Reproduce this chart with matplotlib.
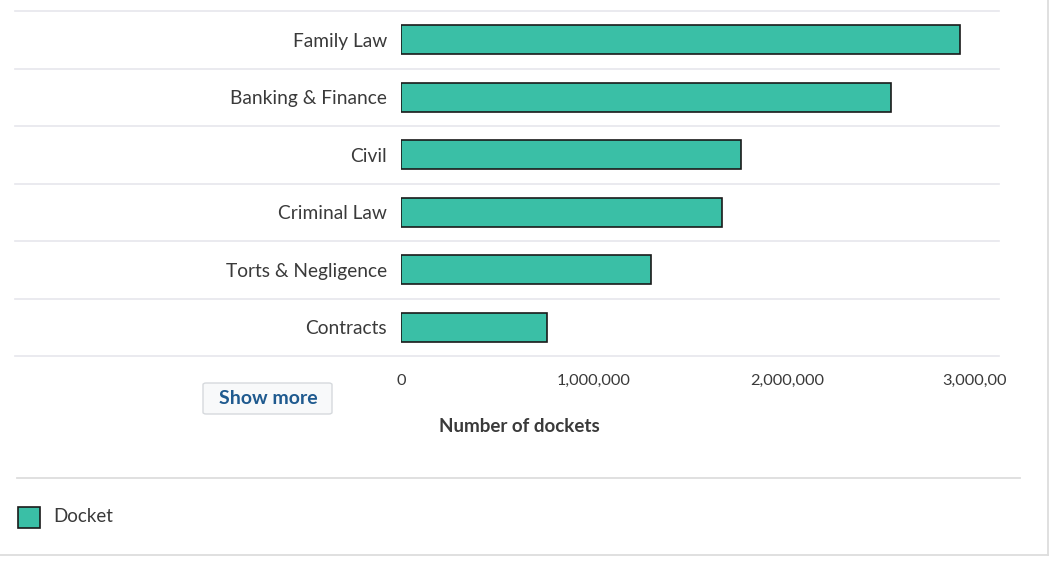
import matplotlib.pyplot as plt
from matplotlib.patches import Rectangle, FancyBboxPatch
from matplotlib.ticker import FuncFormatter

# data
categories = ["Contracts", "Torts & Negligence", "Criminal Law", "Civil",
              "Banking & Finance", "Family Law"]
dockets = [756000, 1295000, 1663000, 1762000, 2539000, 2896000]
x_ticks = [0, 1000000, 2000000, 3000000]

teal = "#3abfa6"
grid_col = "#e6e6ec"
text_col = "#3a3a3a"

plt.rcParams['font.family'] = ['Lato', 'DejaVu Sans']

W, H = 1051, 562
fig = plt.figure(figsize=(W / 100, H / 100), dpi=100)

def fx(px):
    return px / W

def fy(py):
    return 1 - py / H

ax = fig.add_axes([fx(401), fy(356), fx(999) - fx(401), fy(11) - fy(356)])
ax.barh(range(len(categories)), dockets, height=0.5, color=teal,
        edgecolor="#1a1a1a", linewidth=1.2, zorder=3)
ax.set_xlim(0, 3.1e6)
ax.set_ylim(-0.5, len(categories) - 0.5)
ax.set_yticks(range(len(categories)))
ax.set_yticklabels(categories, fontsize=13.8, color=text_col)
ax.set_xticks(x_ticks)
ax.xaxis.set_major_formatter(FuncFormatter(lambda v, p: f"{int(v):,}"))
ax.tick_params(axis="x", labelsize=11.8, colors=text_col, length=0, pad=13)
ax.tick_params(axis="y", length=0, pad=10)
for s in ax.spines.values():
    s.set_visible(False)

# category band separators, running into the label area
for i in range(len(categories) + 1):
    ax.axhline(i - 0.5, xmin=-0.645, xmax=1.0, color=grid_col, lw=1.2,
               clip_on=False, zorder=1)

# the chart container cuts off the end of the last tick label
fig.add_artist(Rectangle((fx(1007), fy(395)), fx(1046) - fx(1007), fy(365) - fy(395),
                         transform=fig.transFigure, facecolor="white",
                         edgecolor="none", zorder=5))

fig.text(fx(519), fy(427), "Number of dockets", ha="center", va="center",
         fontsize=13.5, fontweight="bold", color=text_col)

# "Show more" button
btn = FancyBboxPatch((fx(203), fy(414)), fx(332) - fx(203), fy(383) - fy(414),
                     boxstyle="round,pad=0,rounding_size=0.003",
                     transform=fig.transFigure, facecolor="#f8f9fa",
                     edgecolor="#d6d9dd", lw=1)
fig.patches.append(btn)
fig.text(fx(268), fy(398.5), "Show more", ha="center", va="center",
         fontsize=14, fontweight="bold", color="#1f5a8f")

# bottom separator and outer frame
fig.add_artist(plt.Line2D([fx(17), fx(1020)], [fy(478), fy(478)],
                          color="#dddddd", lw=1.3))
fig.add_artist(plt.Line2D([fx(1048), fx(1048)], [fy(0), fy(555)],
                          color="#dddddd", lw=1.3))
fig.add_artist(plt.Line2D([fx(0), fx(1048)], [fy(555), fy(555)],
                          color="#dddddd", lw=1.3))

# legend
fig.patches.append(Rectangle((fx(18), fy(528)), fx(40) - fx(18), fy(507) - fy(528),
                             transform=fig.transFigure, facecolor=teal,
                             edgecolor="#1a1a1a", lw=1.2))
fig.text(fx(53), fy(517), "Docket", ha="left", va="center",
         fontsize=13.5, color=text_col)

fig.savefig("out.png", dpi=100)
